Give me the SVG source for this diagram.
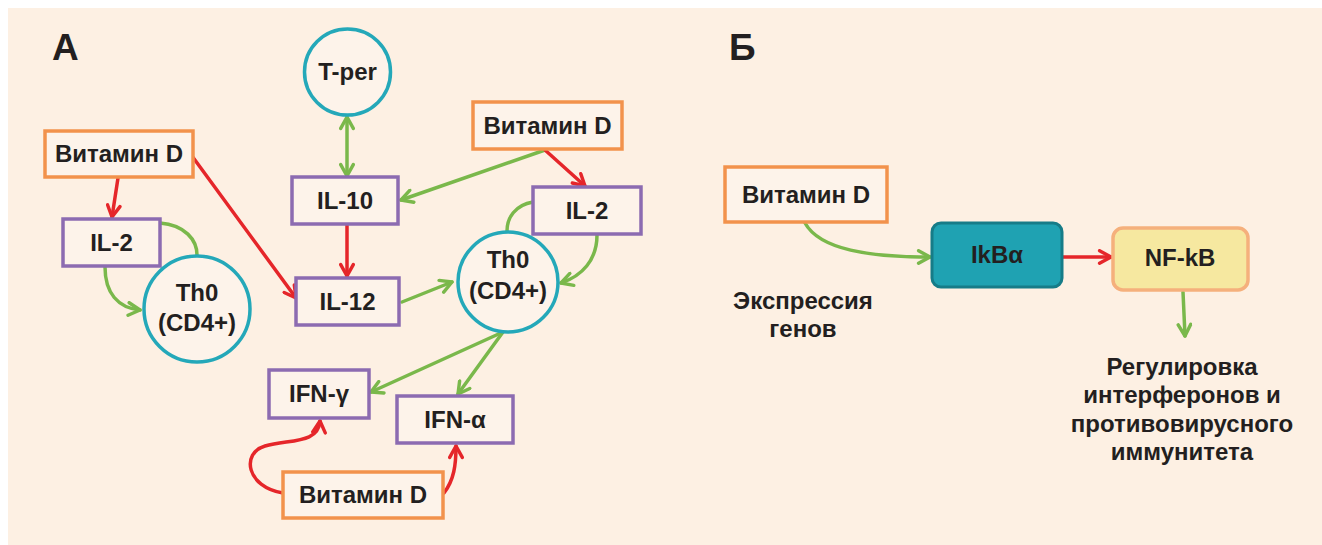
<svg xmlns="http://www.w3.org/2000/svg" width="1322" height="545" viewBox="0 0 1322 545">
<style>
.bg{fill:#fdf0e3}
.vit{fill:#fdf3ea;stroke:#f2924c;stroke-width:3.5}
.il{fill:#fdf3ea;stroke:#8c6bb1;stroke-width:3.5}
.cell{fill:#fdf3ea;stroke:#24a8b9;stroke-width:3.5}
.t{font-family:"Liberation Sans",Arial,sans-serif;font-weight:700;font-size:24px;fill:#231f20;text-anchor:middle}
.big{font-family:"Liberation Sans",Arial,sans-serif;font-weight:700;font-size:37px;fill:#231f20}
.g{fill:none;stroke:#7ab84b;stroke-width:3.5;stroke-linecap:round}
.r{fill:none;stroke:#e5262a;stroke-width:3.5;stroke-linecap:round}
.ga{marker-end:url(#ag)}
.ra{marker-end:url(#ar)}
</style>
<defs>
<marker id="ag" viewBox="0 0 14 14" refX="12" refY="7" markerWidth="16" markerHeight="16" markerUnits="userSpaceOnUse" orient="auto-start-reverse">
<path d="M2,1.5 L12,7 L2,12.5" fill="none" stroke="#7ab84b" stroke-width="3" stroke-linecap="round" stroke-linejoin="round"/>
</marker>
<marker id="ar" viewBox="0 0 14 14" refX="12" refY="7" markerWidth="16" markerHeight="16" markerUnits="userSpaceOnUse" orient="auto-start-reverse">
<path d="M2,1.5 L12,7 L2,12.5" fill="none" stroke="#e5262a" stroke-width="3" stroke-linecap="round" stroke-linejoin="round"/>
</marker>
</defs>
<rect class="bg" x="8" y="8" width="1314" height="537"/>
<text class="big" x="52" y="60">А</text>
<text class="big" x="729" y="60">Б</text>

<g id="connectors">
<path class="r ra" d="M118,178 L112,217"/>
<path class="r ra" d="M192,156 L296,298"/>
<path class="g" d="M160,223 C185,225 197,240 197,255"/>
<path class="g ga" d="M105,267 C105,293 118,308 140,310"/>
<path class="g ga" d="M347,117 L347,176" style="marker-start:url(#ag)"/>
<path class="g ga" d="M545,150 L401,200"/>
<path class="r ra" d="M545,150 L585,186"/>
<path class="r ra" d="M347,225 L347,276"/>
<path class="g ga" d="M402,302 L452,282"/>
<path class="g" d="M533,202 C515,205 507,218 507,231"/>
<path class="g ga" d="M597,235 C597,260 582,276 561,283"/>
<path class="g ga" d="M503,332 L371,392"/>
<path class="g ga" d="M503,332 L458,394"/>
<path class="r ra" d="M283,493 C246,487 241,453 265,446 C290,439 318,444 320,421"/>
<path class="r ra" d="M444,493 C454,480 456,465 456,446"/>
<path class="g ga" d="M805,223 C820,250 870,257 930,257"/>
<path class="r ra" d="M1063,257 L1111,257"/>
<path class="g ga" d="M1183,292 L1185,336"/>
</g>

<g id="vitD-left"><rect class="vit" x="45" y="131" width="148" height="46"/><text class="t" x="119" y="162">Витамин D</text></g>
<g id="il2-left"><rect class="il" x="63" y="219" width="97" height="47"/><text class="t" x="111.5" y="251">IL-2</text></g>
<g id="th0-left"><circle class="cell" cx="197" cy="309" r="53"/><text class="t" x="197" y="301">Th0</text><text class="t" x="197" y="331">(CD4+)</text></g>
<g id="tper"><circle class="cell" cx="347.5" cy="72" r="43"/><text class="t" x="347.5" y="80">T-per</text></g>
<g id="il10"><rect class="il" x="292" y="177" width="106" height="47"/><text class="t" x="345" y="209">IL-10</text></g>
<g id="il12"><rect class="il" x="296" y="278" width="103" height="47"/><text class="t" x="347.5" y="310">IL-12</text></g>
<g id="vitD-top"><rect class="vit" x="473" y="102" width="149" height="47"/><text class="t" x="547.5" y="134">Витамин D</text></g>
<g id="il2-right"><rect class="il" x="533" y="187" width="108" height="47"/><text class="t" x="587" y="219">IL-2</text></g>
<g id="th0-right"><circle class="cell" cx="508" cy="282" r="50"/><text class="t" x="508" y="268">Th0</text><text class="t" x="508" y="299">(CD4+)</text></g>
<g id="ifng"><rect class="il" x="269" y="370" width="100" height="48"/><text class="t" x="319" y="402">IFN-γ</text></g>
<g id="ifna"><rect class="il" x="397" y="396" width="116" height="47"/><text class="t" x="455" y="428">IFN-α</text></g>
<g id="vitD-bottom"><rect class="vit" x="283" y="472" width="160" height="46"/><text class="t" x="363" y="503">Витамин D</text></g>

<g id="vitD-b"><rect class="vit" x="725" y="167" width="162" height="55"/><text class="t" x="806" y="203">Витамин D</text></g>
<g id="ikba"><rect x="932" y="223" width="130" height="64" rx="9" fill="#1fa2b2" stroke="#167c88" stroke-width="3"/><text class="t" x="997" y="263">IkBα</text></g>
<g id="nfkb"><rect x="1113" y="228" width="135" height="62" rx="10" fill="#f6e8a0" stroke="#f5b07c" stroke-width="3.5"/><text class="t" x="1180" y="266">NF-kB</text></g>
<g id="expr"><text class="t" x="803" y="309">Экспрессия</text><text class="t" x="803" y="337">генов</text></g>
<g id="reg"><text class="t" x="1182" y="375">Регулировка</text><text class="t" x="1182" y="403">интерферонов и</text><text class="t" x="1182" y="432">противовирусного</text><text class="t" x="1182" y="460">иммунитета</text></g>
</svg>
